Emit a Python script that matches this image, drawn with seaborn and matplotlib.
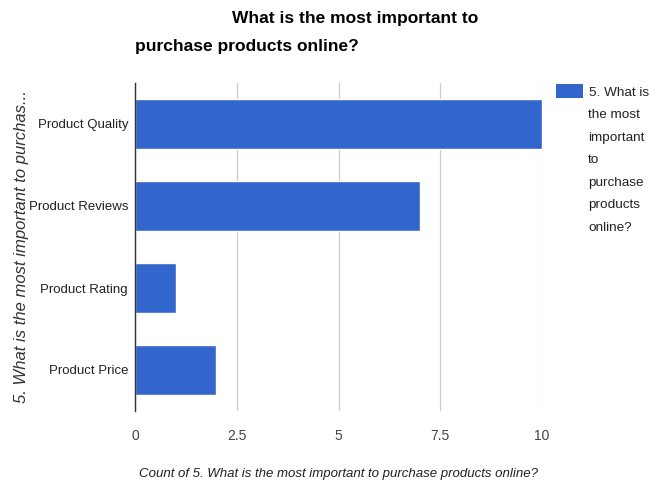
import matplotlib
matplotlib.use("Agg")
import matplotlib.pyplot as plt
import seaborn as sns
import pandas as pd
from matplotlib.patches import Patch

categories = ["Product Quality", "Product Reviews", "Product Rating", "Product Price"]
counts = [10, 7, 1, 2]
xticks = [0, 2.5, 5, 7.5, 10]
xtick_labels = ["0", "2.5", "5", "7.5", "10"]
series_name = "5. What is the most important to purchase products online?"

sns.set_theme(style="white")
plt.rcParams["font.family"] = ["Liberation Sans", "DejaVu Sans"]

df = pd.DataFrame({"cat": categories, "count": counts})

fig = plt.figure(figsize=(6.62, 4.90), dpi=100)
ax = fig.add_axes([135/662, 1-411/490, (542-135)/662, (411-83)/490])

sns.barplot(data=df, y="cat", x="count", color="#3366CC", width=0.61,
            saturation=1, ax=ax, zorder=3)

ax.set_xlim(0, 10)
ax.set_ylim(3.5, -0.5)
ax.set_xticks(xticks)
ax.set_xticklabels(xtick_labels, fontsize=10, color="#444444")
ax.tick_params(axis="y", labelsize=9.5, labelcolor="#222222", length=0, pad=5)
ax.tick_params(axis="x", length=0, pad=13)
ax.grid(axis="x", color="#cccccc", linewidth=0.9, zorder=0)
for s in ["top", "right", "bottom"]:
    ax.spines[s].set_visible(False)
ax.spines["left"].set_color("#333333")
ax.spines["left"].set_linewidth(1.0)
ax.spines["left"].set_zorder(4)

ax.set_xlabel("Count of " + series_name,
              fontsize=9.5, style="italic", color="#222222", labelpad=18)
ax.set_ylabel("")
fig.text(22/662, 1-247/490, "5. What is the most important to purchas...",
         rotation=90, ha="center", va="center", fontsize=12, style="italic",
         color="#333333")

fig.text(355/662, 1-19/490, "What is the most important to", ha="center", va="center",
         fontsize=12.5, fontweight="bold", color="#000000")
fig.text(135/662, 1-47/490, "purchase products online?", ha="left", va="center",
         fontsize=12.5, fontweight="bold", color="#000000")

leg = ax.legend(handles=[Patch(facecolor="#3366CC", edgecolor="none")],
                labels=["5. What is"],
                loc="upper left", bbox_to_anchor=(553/662, 1-81/490),
                bbox_transform=fig.transFigure, frameon=False,
                fontsize=9.7, handlelength=2.0, handleheight=1.3,
                handletextpad=0.5, borderaxespad=0, borderpad=0.2)
for t in leg.get_texts():
    t.set_color("#222222")
fig.text(588/662, 1-109/490, "the most\nimportant\nto\npurchase\nproducts\nonline?",
         ha="left", va="top", fontsize=9.7, color="#222222", linespacing=2.17)

fig.savefig("out.png", dpi=100)
